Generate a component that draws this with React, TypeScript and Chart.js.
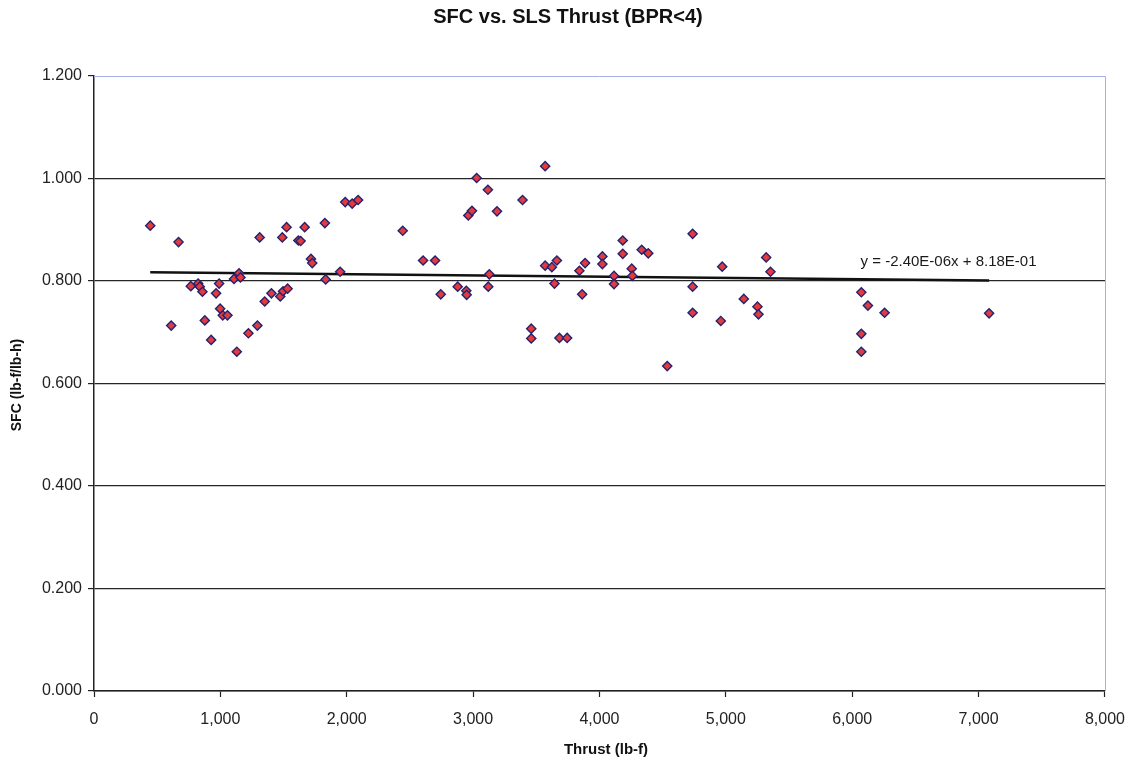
import React, { useEffect, useRef } from 'react';
import { Chart, registerables } from 'chart.js';

Chart.register(...registerables);

const thrust = [
  445, 611, 669, 766, 824, 837, 858, 877, 927, 966, 990, 998, 1019, 1056, 1108, 1130, 1148, 1159,
  1222, 1293, 1311, 1351, 1404, 1474, 1490, 1496, 1524, 1532, 1617, 1635, 1667, 1717, 1727, 1827,
  1833, 1948, 1988, 2043, 2090, 2443, 2604, 2699, 2744, 2878, 2946, 2949, 2962, 2991, 3028, 3117,
  3120, 3128, 3189, 3391, 3460, 3460, 3570, 3570, 3623, 3644, 3663, 3683, 3744, 3841, 3863, 3886,
  4023, 4023, 4115, 4115, 4184, 4184, 4255, 4260, 4334, 4386, 4536, 4737, 4737, 4737, 4960, 4971,
  5142, 5250, 5258, 5319, 5353, 6072, 6072, 6072, 6124, 6256, 7083,
];
const sfc = [
  0.908, 0.713, 0.876, 0.79, 0.795, 0.789, 0.779, 0.723, 0.685, 0.776, 0.795, 0.746, 0.733, 0.733, 0.804, 0.662, 0.815, 0.807,
  0.698, 0.713, 0.885, 0.76, 0.776, 0.77, 0.885, 0.78, 0.905, 0.785, 0.879, 0.878, 0.905, 0.843, 0.835, 0.913,
  0.803, 0.818, 0.954, 0.951, 0.958, 0.898, 0.84, 0.84, 0.774, 0.789, 0.781, 0.773, 0.928, 0.937, 1.001, 0.978,
  0.789, 0.813, 0.936, 0.958, 0.707, 0.688, 1.024, 0.83, 0.827, 0.795, 0.84, 0.689, 0.689, 0.82, 0.774, 0.835,
  0.848, 0.833, 0.81, 0.794, 0.879, 0.853, 0.824, 0.81, 0.861, 0.854, 0.634, 0.892, 0.789, 0.738, 0.722, 0.828,
  0.765, 0.75, 0.735, 0.846, 0.818, 0.778, 0.697, 0.662, 0.752, 0.738, 0.737,
];

const trendThrust = [445, 7083];
const trendSfc = [0.817, 0.801];

const xTickValues = [0, 1000, 2000, 3000, 4000, 5000, 6000, 7000, 8000];
const yTickValues = [0, 0.2, 0.4, 0.6, 0.8, 1.0, 1.2];

const chartTitle = 'SFC vs. SLS Thrust (BPR<4)';
const xTitle = 'Thrust (lb-f)';
const yTitle = 'SFC (lb-f/lb-h)';
const trendLabel = 'y = -2.40E-06x + 8.18E-01';
const trendLabelAt = { x: 6066, y: 0.838 };

const FONT = '"Liberation Sans", Arial, sans-serif';

const textPlugin = {
  id: 'extraTexts',
  afterDraw(chart: any) {
    const { ctx, chartArea: ca, scales } = chart;
    ctx.save();
    // plot area top/right border
    ctx.strokeStyle = '#a3b2e4';
    ctx.lineWidth = 1;
    ctx.beginPath();
    ctx.moveTo(ca.left, Math.round(ca.top) + 0.5);
    ctx.lineTo(Math.round(ca.right) + 0.5, Math.round(ca.top) + 0.5);
    ctx.lineTo(Math.round(ca.right) + 0.5, ca.bottom);
    ctx.stroke();

    ctx.fillStyle = '#111';
    ctx.textAlign = 'center';
    ctx.textBaseline = 'middle';
    ctx.font = `bold 20px ${FONT}`;
    ctx.fillText(chartTitle, 568, 17);

    ctx.font = `bold 15px ${FONT}`;
    ctx.fillText(xTitle, 606, 750);

    ctx.save();
    ctx.translate(17, 385);
    ctx.rotate(-Math.PI / 2);
    ctx.font = `bold 14px ${FONT}`;
    ctx.fillText(yTitle, 0, 0);
    ctx.restore();

    ctx.font = `15px ${FONT}`;
    ctx.textAlign = 'left';
    ctx.fillStyle = '#1a1a1a';
    ctx.fillText(
      trendLabel,
      scales.x.getPixelForValue(trendLabelAt.x),
      scales.y.getPixelForValue(trendLabelAt.y)
    );
    ctx.restore();
  },
};

export default function App() {
  const canvasRef = useRef<HTMLCanvasElement | null>(null);

  useEffect(() => {
    if (!canvasRef.current) return;
    const points = thrust.map((x, i) => ({ x, y: sfc[i] }));
    const trend = trendThrust.map((x, i) => ({ x, y: trendSfc[i] }));
    const chart = new Chart(canvasRef.current, {
      type: 'scatter',
      data: {
        datasets: [
          {
            label: 'Trend',
            data: trend,
            showLine: true,
            borderColor: '#111',
            borderWidth: 2.4,
            pointRadius: 0,
            pointHoverRadius: 0,
            order: 2,
          } as any,
          {
            label: 'SFC',
            data: points,
            pointStyle: 'rectRot',
            pointRadius: 4.6,
            pointBackgroundColor: '#e23a3f',
            pointBorderColor: '#24236e',
            pointBorderWidth: 1.4,
            order: 1,
          } as any,
        ],
      },
      options: {
        animation: false,
        responsive: true,
        maintainAspectRatio: false,
        layout: { padding: { top: 76, right: 31, left: 0, bottom: 0 } },
        plugins: {
          legend: { display: false },
          tooltip: { enabled: false },
          title: { display: false },
        },
        scales: {
          x: {
            type: 'linear',
            min: 0,
            max: 8000,
            afterFit(scale: any) {
              scale.height = 72;
            },
            afterBuildTicks(scale: any) {
              scale.ticks = xTickValues.map((v) => ({ value: v }));
            },
            ticks: {
              font: { family: FONT, size: 16 },
              color: '#222',
              padding: 13,
              maxRotation: 0,
              callback: (v: any) => Number(v).toLocaleString('en-US'),
            },
            grid: {
              drawOnChartArea: false,
              drawTicks: true,
              tickLength: 6,
              tickColor: '#222',
              tickWidth: 1.2,
            },
            border: { color: '#222', width: 1.5 },
          },
          y: {
            type: 'linear',
            min: 0,
            max: 1.2,
            afterFit(scale: any) {
              scale.width = 94;
            },
            afterBuildTicks(scale: any) {
              scale.ticks = yTickValues.map((v) => ({ value: v }));
            },
            ticks: {
              font: { family: FONT, size: 16 },
              color: '#222',
              padding: 6,
              callback: (v: any) => Number(v).toFixed(3),
            },
            grid: {
              color: (c: any) => (c.tick && c.tick.value >= 1.19 ? 'rgba(0,0,0,0)' : '#262626'),
              lineWidth: 1.2,
              tickLength: 6,
              tickColor: '#222',
            },
            border: { color: '#222', width: 1.5 },
          },
        },
      },
      plugins: [textPlugin],
    });
    return () => chart.destroy();
  }, []);

  return (
    <div
      style={{
        position: 'fixed',
        left: 0,
        top: 0,
        width: 1138,
        height: 763,
        background: '#fff',
      }}
    >
      <canvas ref={canvasRef} />
    </div>
  );
}
